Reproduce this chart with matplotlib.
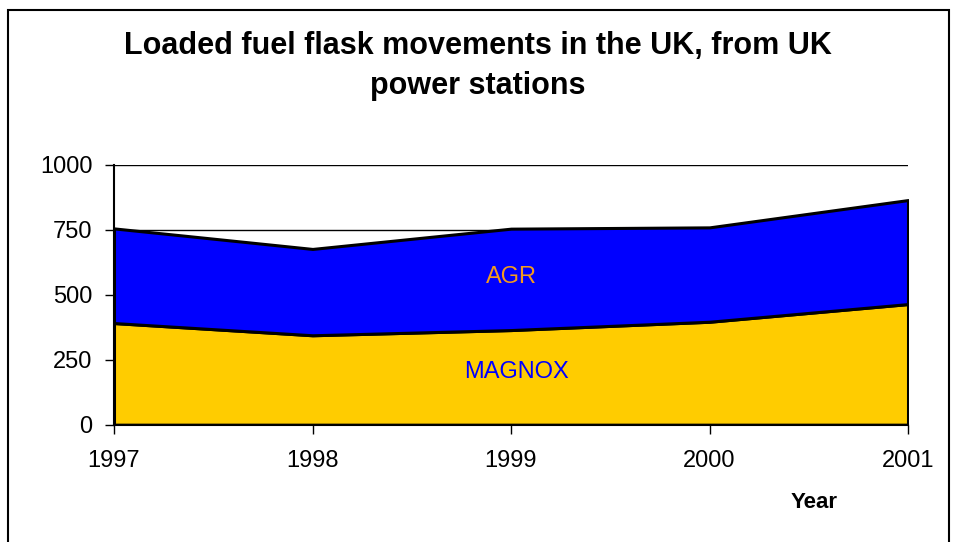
import matplotlib.pyplot as plt
from matplotlib.patches import Rectangle

plt.rcParams['font.family'] = ['Liberation Sans', 'DejaVu Sans']

# 数据
years = [1997, 1998, 1999, 2000, 2001]
magnox = [391, 344, 364, 396, 464]
agr = [364, 332, 390, 363, 400]
y_ticks = [0, 250, 500, 750, 1000]

W, H = 954, 542
fig = plt.figure(figsize=(W / 100, H / 100), dpi=100)
ax = fig.add_axes([114 / W, (H - 424.7) / H, (908 - 114) / W, (424.7 - 164.7) / H])

# 外框
fig.patches.append(Rectangle((8 / W, -0.1), (949 - 8) / W, (H - 10) / H + 0.1,
                             transform=fig.transFigure, fill=False,
                             edgecolor='black', linewidth=1.5))

ax.set_xlim(years[0], years[-1])
ax.set_ylim(0, 1000)
ax.set_yticks(y_ticks)
ax.set_xticks(years)
ax.grid(True, axis='y', color='black', linewidth=1)
ax.set_axisbelow(True)

ax.stackplot(years, magnox, agr, colors=['#FFCC00', '#0000FF'],
             edgecolor='black', linewidth=2.2, zorder=2)

for s in ['top', 'right']:
    ax.spines[s].set_visible(False)
for s in ['left', 'bottom']:
    ax.spines[s].set_linewidth(1.5)
    ax.spines[s].set_zorder(3)

ax.tick_params(axis='both', direction='out', length=6.5, width=1, labelsize=17)
ax.tick_params(axis='x', pad=12)
ax.tick_params(axis='y', pad=9)

ax.text(1999, 569, 'AGR', color='#F29A1F', fontsize=17, ha='center', va='center')
ax.text(1999.03, 202, 'MAGNOX', color='#0000FF', fontsize=17, ha='center', va='center')

fig.text(478 / W, (H - 46) / H, 'Loaded fuel flask movements in the UK, from UK',
         ha='center', va='center', fontsize=22, fontweight='bold')
fig.text(478 / W, (H - 86) / H, 'power stations',
         ha='center', va='center', fontsize=22, fontweight='bold')
fig.text(814 / W, (H - 502) / H, 'Year', ha='center', va='center',
         fontsize=16, fontweight='bold')

fig.savefig('out.png', dpi=100)
